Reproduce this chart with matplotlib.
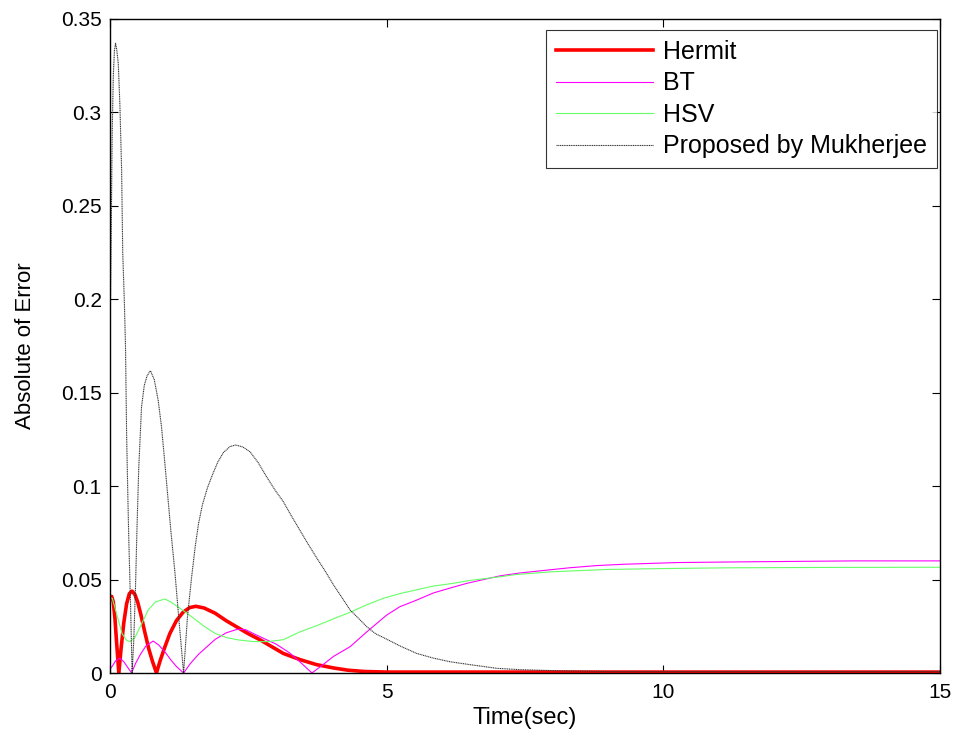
import matplotlib
matplotlib.use('Agg')
import matplotlib.pyplot as plt
from matplotlib.ticker import FormatStrFormatter

plt.rcParams['font.family'] = ['Liberation Sans', 'DejaVu Sans']

# values
t_hermit = [0, 0.03, 0.06, 0.09, 0.12, 0.16, 0.20, 0.25, 0.30, 0.35, 0.40, 0.45, 0.50,
            0.56, 0.62, 0.70, 0.77, 0.84, 0.90, 0.98, 1.08, 1.2, 1.32, 1.44, 1.55, 1.7,
            1.9, 2.1, 2.3, 2.5, 2.71, 2.9, 3.13, 3.43, 3.73, 4.04, 4.3, 4.6, 5.0, 15]
e_hermit = [0.040, 0.041, 0.038, 0.029, 0.016, 0.0, 0.013, 0.027, 0.037, 0.0425, 0.0438,
            0.042, 0.038, 0.031, 0.023, 0.013, 0.006, 0.0, 0.006, 0.013, 0.021, 0.028,
            0.0325, 0.035, 0.0357, 0.0348, 0.032, 0.028, 0.0245, 0.021, 0.0178, 0.0145,
            0.0105, 0.0072, 0.0045, 0.0027, 0.0015, 0.0008, 0.0005, 0.0005]

t_bt = [0, 0.05, 0.1, 0.18, 0.25, 0.32, 0.39, 0.46, 0.55, 0.65, 0.78, 0.88, 1.0, 1.1,
        1.2, 1.33, 1.45, 1.6, 1.72, 1.9, 2.1, 2.3, 2.45, 2.6, 2.83, 3.0, 3.25, 3.45,
        3.65, 3.85, 4.04, 4.34, 4.64, 5.0, 5.24, 5.54, 5.84, 6.15, 6.45, 6.75, 7.05,
        7.4, 7.78, 8.3, 8.8, 9.29, 10.24, 11.5, 13.46, 15]
e_bt = [0.002, 0.004, 0.0065, 0.0079, 0.006, 0.003, 0.0, 0.005, 0.010, 0.0145, 0.0171,
        0.015, 0.011, 0.007, 0.0035, 0.0, 0.005, 0.010, 0.0132, 0.018, 0.0215, 0.0234,
        0.0232, 0.021, 0.0178, 0.0155, 0.0107, 0.0055, 0.0, 0.0045, 0.0089, 0.0141,
        0.022, 0.031, 0.0355, 0.039, 0.0428, 0.0455, 0.048, 0.050, 0.052, 0.0535,
        0.0547, 0.0563, 0.0575, 0.0582, 0.0591, 0.0595, 0.060, 0.060]

t_hsv = [0, 0.04, 0.08, 0.15, 0.22, 0.30, 0.36, 0.45, 0.55, 0.69, 0.82, 0.99, 1.1, 1.25,
         1.48, 1.7, 1.9, 2.1, 2.32, 2.6, 2.85, 3.13, 3.43, 3.75, 4.04, 4.34, 4.64, 4.94,
         5.24, 5.54, 5.84, 6.2, 6.52, 7.05, 7.34, 8.0, 8.98, 10.0, 11.19, 13.0, 15]
e_hsv = [0.040, 0.040, 0.036, 0.0284, 0.021, 0.0175, 0.0168, 0.019, 0.025, 0.0337,
         0.038, 0.0396, 0.038, 0.035, 0.030, 0.025, 0.0212, 0.019, 0.0177, 0.0168,
         0.0168, 0.0178, 0.022, 0.0255, 0.029, 0.0325, 0.0365, 0.040, 0.0425, 0.0445,
         0.0465, 0.048, 0.0496, 0.0515, 0.0527, 0.0542, 0.0554, 0.0559, 0.0563, 0.0565,
         0.0566]

t_muk = [0, 0.02, 0.04, 0.06, 0.08, 0.10, 0.12, 0.15, 0.18, 0.21, 0.23, 0.26, 0.28,
         0.30, 0.32, 0.34, 0.37, 0.40, 0.43, 0.46, 0.49, 0.52, 0.57, 0.62, 0.67, 0.73,
         0.8, 0.87, 0.93, 0.98, 1.04, 1.1, 1.17, 1.25, 1.33, 1.40, 1.47, 1.54, 1.6,
         1.67, 1.76, 1.85, 1.95, 2.05, 2.17, 2.27, 2.4, 2.53, 2.68, 2.83, 2.98, 3.13,
         3.28, 3.43, 3.58, 3.74, 3.9, 4.04, 4.2, 4.34, 4.5, 4.64, 4.8, 4.94, 5.24,
         5.54, 5.84, 6.15, 6.5, 6.99, 7.4, 8.1, 9.0, 15]
e_muk = [0.175, 0.23, 0.29, 0.32, 0.333, 0.337, 0.334, 0.326, 0.303, 0.269, 0.225,
         0.198, 0.175, 0.128, 0.098, 0.071, 0.038, 0.0, 0.018, 0.045, 0.080, 0.110,
         0.1425, 0.154, 0.159, 0.1618, 0.157, 0.146, 0.132, 0.116, 0.096, 0.076, 0.055,
         0.027, 0.0, 0.030, 0.050, 0.0677, 0.080, 0.090, 0.099, 0.106, 0.113, 0.118,
         0.1212, 0.122, 0.121, 0.1184, 0.1125, 0.105, 0.098, 0.0918, 0.084, 0.0765,
         0.069, 0.0614, 0.054, 0.0471, 0.040, 0.0337, 0.029, 0.0248, 0.021, 0.019,
         0.0145, 0.0105, 0.008, 0.006, 0.0045, 0.0025, 0.0018, 0.0012, 0.0008, 0.0008]

fig = plt.figure(figsize=(9.59, 7.39), dpi=100)
ax = fig.add_axes([0.1147, 0.0893, 0.8655, 0.885])

ax.plot(t_hermit, e_hermit, color='#ff0000', lw=2.6, label='Hermit')
ax.plot(t_bt, e_bt, color='#ff00ff', lw=0.8, label='BT')
ax.plot(t_hsv, e_hsv, color='#66ff66', lw=0.8, label='HSV')
ax.plot(t_muk, e_muk, color='#333333', lw=0.8, linestyle=(0, (1, 0.6)),
        label='Proposed by Mukherjee')

ax.set_xlim(0, 15)
ax.set_ylim(0, 0.35)
ax.set_xticks([0, 5, 10, 15])
ax.set_yticks([0, 0.05, 0.1, 0.15, 0.2, 0.25, 0.3, 0.35])
ax.yaxis.set_major_formatter(FormatStrFormatter('%g'))
ax.tick_params(direction='in', top=True, right=True, labelsize=15, length=6, width=0.8)
ax.tick_params(axis='x', pad=7)
ax.tick_params(axis='y', pad=6)
for s in ax.spines.values():
    s.set_linewidth(1.0)

ax.set_xlabel('Time(sec)', fontsize=17, labelpad=4)
ax.set_ylabel('Absolute of Error', fontsize=16, labelpad=18)

leg = ax.legend(loc='upper right', fontsize=18, handlelength=3.9, handletextpad=0.4,
                labelspacing=0.3, borderpad=0.4, borderaxespad=0, frameon=True,
                fancybox=False, edgecolor='black', bbox_to_anchor=(0.9964, 0.9832))
leg.get_frame().set_linewidth(0.8)

fig.savefig('out.png', dpi=100)
